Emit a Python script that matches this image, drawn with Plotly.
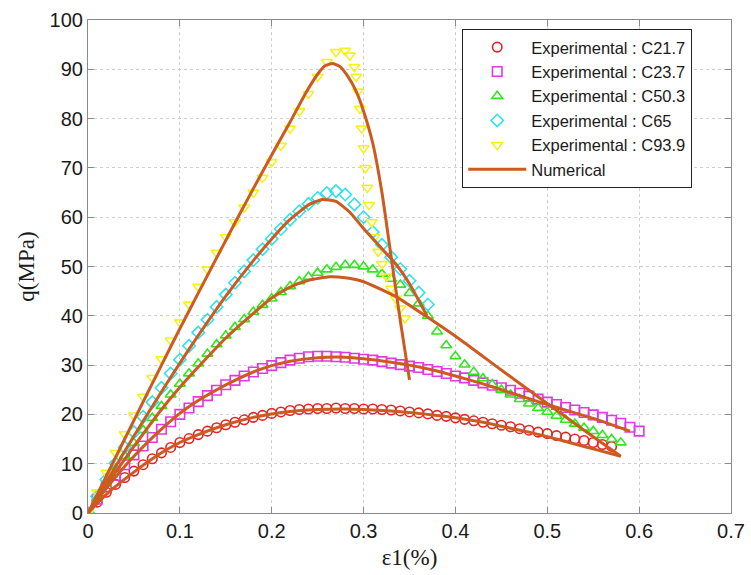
import plotly.graph_objects as go

# strain grid (%), shared by the experimental series sampled every 0.01
EPS = [0.00, 0.01, 0.02, 0.03, 0.04, 0.05, 0.06, 0.07, 0.08, 0.09,
       0.10, 0.11, 0.12, 0.13, 0.14, 0.15, 0.16, 0.17, 0.18, 0.19,
       0.20, 0.21, 0.22, 0.23, 0.24, 0.25, 0.26, 0.27, 0.28, 0.29,
       0.30, 0.31, 0.32, 0.33, 0.34, 0.35, 0.36, 0.37, 0.38, 0.39,
       0.40, 0.41, 0.42, 0.43, 0.44, 0.45, 0.46, 0.47, 0.48, 0.49,
       0.50, 0.51, 0.52, 0.53, 0.54, 0.55, 0.56, 0.57, 0.58, 0.59, 0.60]

# Experimental deviatoric stress q (MPa)
Q_C217 = [0, 2.2, 4.2, 5.8, 7.2, 8.5, 9.8, 11.0, 12.2, 13.3,
          14.3, 15.1, 15.9, 16.6, 17.3, 17.9, 18.4, 18.9, 19.4, 19.8,
          20.2, 20.5, 20.8, 21.0, 21.1, 21.2, 21.2, 21.3, 21.2, 21.2,
          21.1, 21.1, 21.0, 20.9, 20.7, 20.5, 20.3, 20.1, 19.8, 19.6,
          19.3, 19.0, 18.7, 18.4, 18.1, 17.8, 17.5, 17.1, 16.8, 16.4,
          16.1, 15.7, 15.4, 15.0, 14.7, 14.3, 13.9, 13.5]
Q_C237 = [0, 2.8, 5.3, 7.6, 9.8, 11.8, 13.6, 15.3, 17.0, 18.5,
          20.0, 21.3, 22.6, 23.8, 24.9, 26.0, 26.9, 27.8, 28.6, 29.3,
          29.9, 30.5, 31.0, 31.4, 31.7, 31.8, 31.8, 31.7, 31.6, 31.4,
          31.2, 31.0, 30.7, 30.4, 30.1, 29.8, 29.5, 29.1, 28.7, 28.3,
          27.8, 27.4, 26.9, 26.4, 25.9, 25.4, 24.9, 24.3, 23.7, 23.1,
          22.5, 22.0, 21.4, 20.9, 20.4, 19.9, 19.4, 18.8, 18.2, 17.4, 16.6]
Q_C503 = [0, 3.0, 6.0, 8.9, 11.6, 14.2, 16.8, 19.3, 21.7, 24.0,
          26.2, 28.3, 30.3, 32.3, 34.2, 36.0, 37.7, 39.3, 40.8, 42.2,
          43.5, 44.8, 46.0, 47.0, 47.9, 48.7, 49.4, 49.9, 50.3, 50.3,
          50.0, 49.4, 48.5, 47.5, 46.3, 44.6, 42.5, 40.0, 36.8, 34.0,
          31.8, 30.1, 28.6, 27.3, 26.1, 25.0, 24.0, 23.1, 22.2, 21.3,
          20.5, 19.7, 18.9, 18.1, 17.3, 16.6, 15.8, 15.0, 14.3]
Q_C65 = [0, 3.4, 6.8, 10.1, 13.3, 16.4, 19.5, 22.5, 25.4, 28.3,
         31.1, 33.9, 36.6, 39.2, 41.8, 44.3, 46.7, 49.0, 51.3, 53.5,
         55.6, 57.6, 59.5, 61.2, 62.7, 63.9, 64.9, 65.3, 64.6, 62.6,
         60.0, 57.0, 54.4, 51.9, 49.5, 47.1, 44.7, 42.3]
EPS_C939 = [0, 0.01, 0.02, 0.03, 0.04, 0.05, 0.06, 0.07, 0.08, 0.09,
            0.10, 0.11, 0.12, 0.13, 0.14, 0.15, 0.16, 0.17, 0.18, 0.19,
            0.20, 0.21, 0.22, 0.23, 0.24, 0.25, 0.26, 0.27, 0.28, 0.285,
            0.29, 0.292, 0.294, 0.296, 0.298, 0.300, 0.302, 0.304, 0.306,
            0.309, 0.312, 0.316, 0.320, 0.325, 0.330, 0.335, 0.340, 0.345]
Q_C939 = [0, 4.2, 8.2, 12.2, 16.0, 19.8, 23.6, 27.4, 31.2, 35.0,
          38.7, 42.3, 45.9, 49.4, 52.8, 56.0, 59.0, 62.0, 65.0, 68.0,
          71.2, 74.5, 78.0, 81.5, 85.0, 88.5, 91.5, 93.5, 93.8, 92.8,
          90.5, 88.5, 85.5, 82.0, 78.0, 74.0, 70.0, 66.0, 62.5,
          59.0, 56.0, 53.0, 50.5, 48.0, 45.5, 43.5, 41.5, 39.5]

# Numerical curves
NUM_C217_X = [0, .02, .05, .08, .1, .12, .15, .18, .2, .22, .25, .28, .3, .33,
              .35, .38, .4, .43, .45, .48, .5, .53, .55, .58]
NUM_C217_Y = [0, 3.8, 8.3, 12.2, 14.3, 15.9, 17.9, 19.4, 20.1, 20.6, 21.0, 21.1,
              21.0, 20.7, 20.4, 19.8, 19.3, 18.4, 17.6, 16.4, 15.5, 14.0, 13.0, 11.5]
NUM_C237_X = [0, .02, .05, .08, .1, .12, .15, .18, .2, .22, .25, .28, .3, .33,
              .35, .38, .4, .43, .45, .48, .5, .53, .55, .59]
NUM_C237_Y = [0, 5.0, 11.5, 17.0, 20.2, 22.8, 26.0, 28.6, 29.9, 30.8, 31.5, 31.6,
              31.3, 30.6, 30.0, 28.8, 27.8, 26.2, 25.0, 23.2, 22.0, 20.3, 19.2, 16.6]
NUM_C503_X = [0, .02, .05, .08, .1, .12, .15, .18, .2, .22, .24, .263, .28, .3,
              .336, .369, .405, .45, .5, .54, .58]
NUM_C503_Y = [0, 5.6, 13.5, 21.0, 25.5, 29.6, 35.5, 40.5, 43.6, 45.8, 47.2, 47.9,
              47.7, 46.9, 43.8, 39.8, 35.2, 29.0, 22.2, 16.8, 11.5]
NUM_C65_X = [0, .02, .05, .08, .1, .12, .15, .18, .2, .218, .24, .255, .27, .285,
             .3, .32, .336, .35, .369]
NUM_C65_Y = [0, 6.3, 15.6, 24.6, 30.4, 36.0, 44.0, 51.2, 55.6, 59.2, 62.5, 63.6,
             63.2, 61.0, 57.7, 53.6, 50.3, 46.5, 40.0]
NUM_C939_X = [0, .02, .05, .08, .1, .12, .15, .165, .18, .2, .22, .238, .25, .258,
              .266, .274, .282, .292, .3, .31, .32, .33, .34, .35]
NUM_C939_Y = [0, 7.5, 18.8, 30.0, 37.4, 44.6, 55.3, 60.6, 65.8, 72.6, 79.3, 85.5,
              89.0, 90.7, 91.2, 90.6, 88.8, 85.5, 81.5, 75.0, 65.0, 52.0, 39.0, 27.0]

X_TICKS = [0, 0.1, 0.2, 0.3, 0.4, 0.5, 0.6, 0.7]
X_TICK_TEXT = ["0", "0.1", "0.2", "0.3", "0.4", "0.5", "0.6", "0.7"]
Y_TICKS = [0, 10, 20, 30, 40, 50, 60, 70, 80, 90, 100]

NUM_COLOR = "#cd5a1f"

fig = go.Figure()

exp_series = [
    ("Experimental : C21.7", EPS[:len(Q_C217)], Q_C217, "circle-open", "#e52325"),
    ("Experimental : C23.7", EPS[:len(Q_C237)], Q_C237, "square-open", "#e238e2"),
    ("Experimental : C50.3", EPS[:len(Q_C503)], Q_C503, "triangle-up-open", "#2fe81c"),
    ("Experimental : C65", EPS[:len(Q_C65)], Q_C65, "diamond-open", "#2ee3ea"),
    ("Experimental : C93.9", EPS_C939, Q_C939, "triangle-down-open", "#f4f21c"),
]
for name, xs, ys, sym, col in exp_series:
    fig.add_trace(go.Scatter(
        x=xs, y=ys, mode="markers", name=name,
        marker=dict(symbol=sym, size=9.5, color=col, line=dict(width=1.6, color=col)),
    ))

num_series = [
    (NUM_C217_X, NUM_C217_Y), (NUM_C237_X, NUM_C237_Y), (NUM_C503_X, NUM_C503_Y),
    (NUM_C65_X, NUM_C65_Y), (NUM_C939_X, NUM_C939_Y),
]
for i, (xs, ys) in enumerate(num_series):
    fig.add_trace(go.Scatter(
        x=xs, y=ys, mode="lines", name="Numerical", showlegend=(i == 0),
        line=dict(color=NUM_COLOR, width=3, shape="spline", smoothing=0.5),
    ))

axis_common = dict(
    showline=True, linecolor="#8a8a8a", linewidth=1.2, mirror="ticks",
    ticks="inside", ticklen=6, tickcolor="#8a8a8a",
    showgrid=True, gridcolor="#d0d0d0", griddash="dot", gridwidth=1,
    zeroline=False, automargin=False,
    tickfont=dict(family="Liberation Sans, Arial, sans-serif", size=20, color="#1a1a1a"),
)

fig.update_xaxes(
    range=[0, 0.7], tickvals=X_TICKS, ticktext=X_TICK_TEXT,
    title=dict(text="ε1(%)", font=dict(family="Liberation Serif, Times New Roman, serif",
                                       size=23, color="#1a1a1a"), standoff=7),
    **axis_common,
)
fig.update_yaxes(
    range=[0, 100], tickvals=Y_TICKS,
    title=dict(text="q(MPa)", font=dict(family="Liberation Serif, Times New Roman, serif",
                                        size=23, color="#1a1a1a"), standoff=8),
    **axis_common,
)

fig.update_layout(
    width=751, height=575,
    margin=dict(l=88, r=20, t=20, b=62),
    paper_bgcolor="white", plot_bgcolor="white",
    showlegend=True,
    legend=dict(
        x=0.582, y=0.982, xanchor="left", yanchor="top",
        bgcolor="white", bordercolor="#222222", borderwidth=1,
        font=dict(family="Liberation Sans, Arial, sans-serif", size=16.5, color="#1a1a1a"),
        itemwidth=58, tracegroupgap=0, entrywidth=252,
    ),
)

fig.write_html("out.html")
